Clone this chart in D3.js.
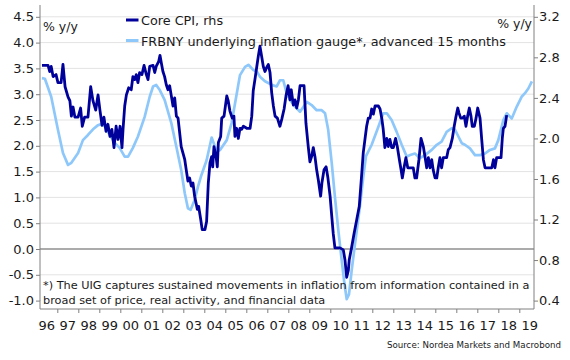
<!DOCTYPE html>
<html><head><meta charset="utf-8">
<script src="https://cdn.jsdelivr.net/npm/d3@7"></script>
<style>body{margin:0;background:#fff}svg{display:block}text{font-family:"DejaVu Sans",sans-serif;fill:#1a1a1a}</style>
</head><body><svg id="c" width="570" height="360"></svg>
<script>
const uigYears = [1996.27,1996.41,1996.71,1997.03,1997.27,1997.51,1997.67,1997.99,1998.22,1998.46,1998.70,1998.94,1999.08,1999.26,1999.51,1999.75,1999.97,2000.21,2000.37,2000.60,2000.84,2001.16,2001.40,2001.56,2001.71,2001.88,2002.11,2002.43,2002.67,2002.90,2003.07,2003.22,2003.35,2003.54,2003.70,2003.86,2004.11,2004.35,2004.59,2004.75,2005.07,2005.30,2005.54,2005.70,2005.94,2006.10,2006.33,2006.50,2006.65,2006.89,2007.21,2007.45,2007.60,2007.76,2007.92,2008.08,2008.32,2008.56,2008.88,2009.11,2009.35,2009.59,2009.75,2009.90,2010.07,2010.22,2010.38,2010.54,2010.67,2010.78,2010.89,2011.02,2011.18,2011.41,2011.57,2011.70,2011.97,2012.29,2012.52,2012.69,2012.92,2013.16,2013.40,2013.64,2013.80,2014.03,2014.27,2014.51,2014.83,2015.07,2015.30,2015.54,2015.78,2015.94,2016.10,2016.26,2016.41,2016.65,2016.89,2017.13,2017.37,2017.60,2017.84,2018.00,2018.24,2018.40,2018.64,2018.88,2019.11,2019.27,2019.43,2019.60];
const uigValues = [3.31,3.30,2.95,2.31,1.86,1.63,1.67,1.86,2.11,2.21,2.32,2.40,2.42,2.38,2.20,2.05,1.96,1.79,1.79,1.96,2.18,2.56,2.95,3.15,3.18,3.08,2.89,2.44,1.98,1.53,1.08,0.79,0.76,0.95,1.21,1.43,1.72,2.16,1.89,1.92,2.11,2.44,3.00,3.37,3.53,3.57,3.47,3.44,3.34,3.25,3.18,3.15,3.27,3.27,3.02,2.89,2.76,2.66,2.85,2.79,2.69,2.69,2.63,2.31,1.66,1.01,0.37,-0.21,-0.66,-0.97,-0.88,-0.41,0.11,0.82,1.40,1.80,2.02,2.37,2.63,2.63,2.50,2.27,2.02,1.79,1.82,1.85,1.76,1.82,1.92,2.02,2.08,2.27,2.34,2.31,2.18,2.05,2.02,1.95,1.82,1.82,1.85,1.92,1.95,2.11,2.50,2.63,2.53,2.76,2.95,3.02,3.11,3.25];
const cpiYears = [1996.27,1996.56,1996.64,1996.71,1996.80,1996.94,1997.03,1997.18,1997.27,1997.37,1997.51,1997.60,1997.67,1997.75,1997.84,1997.99,1998.11,1998.19,1998.30,1998.46,1998.59,1998.70,1998.83,1998.94,1999.03,1999.13,1999.22,1999.32,1999.41,1999.51,1999.60,1999.70,1999.80,1999.89,1999.99,2000.08,2000.13,2000.21,2000.29,2000.40,2000.52,2000.60,2000.69,2000.76,2000.84,2000.92,2001.03,2001.13,2001.24,2001.32,2001.40,2001.56,2001.64,2001.71,2001.83,2001.89,2001.95,2002.03,2002.11,2002.19,2002.27,2002.35,2002.43,2002.51,2002.59,2002.67,2002.75,2002.90,2003.07,2003.14,2003.22,2003.30,2003.38,2003.46,2003.54,2003.67,2003.73,2003.83,2003.90,2004.03,2004.11,2004.19,2004.27,2004.35,2004.40,2004.46,2004.56,2004.62,2004.67,2004.78,2004.83,2004.94,2005.07,2005.14,2005.22,2005.33,2005.41,2005.46,2005.54,2005.62,2005.70,2005.78,2005.86,2006.02,2006.18,2006.26,2006.33,2006.41,2006.50,2006.57,2006.65,2006.73,2006.81,2006.89,2006.97,2007.05,2007.13,2007.21,2007.29,2007.37,2007.48,2007.60,2007.69,2007.80,2007.89,2007.99,2008.08,2008.14,2008.24,2008.32,2008.40,2008.48,2008.56,2008.75,2008.84,2008.95,2009.03,2009.11,2009.19,2009.27,2009.35,2009.43,2009.54,2009.60,2009.70,2009.80,2009.88,2009.99,2010.07,2010.14,2010.22,2010.46,2010.62,2010.70,2010.78,2010.86,2010.90,2011.02,2011.13,2011.26,2011.38,2011.50,2011.57,2011.65,2011.73,2011.81,2011.89,2011.97,2012.05,2012.13,2012.29,2012.37,2012.45,2012.52,2012.60,2012.69,2012.76,2012.84,2012.92,2013.00,2013.11,2013.19,2013.29,2013.37,2013.43,2013.51,2013.60,2013.69,2013.95,2014.03,2014.11,2014.22,2014.32,2014.43,2014.51,2014.59,2014.67,2014.75,2014.83,2014.90,2014.99,2015.07,2015.14,2015.22,2015.30,2015.38,2015.54,2015.62,2015.70,2015.81,2015.90,2015.97,2016.07,2016.13,2016.21,2016.29,2016.38,2016.46,2016.54,2016.62,2016.70,2016.76,2016.86,2016.94,2017.02,2017.13,2017.21,2017.29,2017.37,2017.69,2017.77,2017.84,2017.92,2018.13,2018.19,2018.24,2018.32,2018.40];
const cpiValues = [2.72,2.72,2.66,2.71,2.61,2.63,2.55,2.55,2.73,2.51,2.41,2.37,2.22,2.31,2.21,2.21,2.30,2.12,2.21,2.21,2.51,2.37,2.28,2.43,2.28,2.13,2.21,2.07,2.14,2.02,2.09,1.91,2.12,1.99,2.12,1.91,2.09,2.32,2.43,2.50,2.48,2.61,2.58,2.63,2.55,2.65,2.63,2.72,2.63,2.58,2.71,2.72,2.65,2.71,2.76,2.82,2.75,2.66,2.61,2.53,2.48,2.52,2.42,2.32,2.40,2.22,2.20,1.92,1.79,1.69,1.58,1.61,1.53,1.56,1.43,1.30,1.33,1.20,1.10,1.10,1.18,1.56,1.76,1.82,1.72,1.92,1.82,1.72,1.96,2.02,2.20,2.22,2.42,2.37,2.27,2.20,2.22,2.02,2.10,2.00,2.10,2.09,2.12,2.10,2.10,2.22,2.47,2.58,2.71,2.81,2.91,2.81,2.71,2.66,2.70,2.73,2.65,2.45,2.32,2.22,2.20,2.12,2.19,2.29,2.42,2.52,2.38,2.48,2.33,2.38,2.30,2.38,2.52,2.52,2.15,1.92,1.77,1.82,1.91,1.82,1.69,1.59,1.43,1.56,1.69,1.72,1.62,1.43,1.23,1.06,0.92,0.92,0.90,0.80,0.63,0.70,0.80,0.93,1.06,1.20,1.33,1.66,1.86,1.99,2.12,2.20,2.20,2.29,2.24,2.32,2.32,2.29,2.20,2.09,1.91,2.00,1.92,1.99,1.91,1.91,2.00,1.92,1.79,1.69,1.61,1.71,1.81,1.71,1.71,1.61,1.61,1.79,2.00,1.92,1.82,1.71,1.81,1.71,1.79,1.69,1.61,1.61,1.71,1.81,1.71,1.81,1.81,1.89,1.91,2.00,2.12,2.20,2.30,2.25,2.20,2.20,2.22,2.12,2.22,2.30,2.22,2.12,2.12,2.20,2.30,2.20,1.99,1.79,1.71,1.71,1.79,1.71,1.81,1.81,2.00,2.10,2.12,2.23];
const leftTicks = [-1.0,-0.5,0.0,0.5,1.0,1.5,2.0,2.5,3.0,3.5,4.0,4.5];
const rightTicks = [0.4,0.8,1.2,1.6,2.0,2.4,2.8,3.2];
const yearTicks = [1997,1998,1999,2000,2001,2002,2003,2004,2005,2006,2007,2008,2009,2010,2011,2012,2013,2014,2015,2016,2017,2018,2019];
const yearLabels = ["96","97","98","99","00","01","02","03","04","05","06","07","08","09","10","11","12","13","14","15","16","17","18","19"];
const seriesNames = ["Core CPI, rhs","FRBNY underlying inflation gauge*, advanced 15 months"];
const seriesColors = ["#00009a","#8ec8fb"];
const noteLines = ["*) The UIG captures sustained movements in inflation from information contained in a","broad set of price, real activity, and financial data"];
const sourceText = "Source: Nordea Markets and Macrobond";
const unitLabel = "% y/y";

const L = 40, R = 534, T = 5, B = 309;
const svg = d3.select("#c");
const x = d3.scaleLinear().domain([1996, 2019]).range([36.3, 519.3]);
const yL = d3.scaleLinear().domain([-1, 4.5]).range([300.6, 16.8]);
const yR = d3.scaleLinear().domain([0.4, 3.2]).range([300.6, 16.8]);

// grid
svg.append("g").selectAll("line").data(leftTicks).join("line")
  .attr("x1", L).attr("x2", R).attr("y1", d => yL(d)).attr("y2", d => yL(d))
  .attr("stroke", "#e3e3e3").attr("stroke-width", 1);

// note background
svg.append("rect").attr("x", L + 1).attr("y", 279).attr("width", R - L - 2).attr("height", B - 279 - 1).attr("fill", "#fff");

// zero line
svg.append("line").attr("x1", L).attr("x2", R).attr("y1", yL(0)).attr("y2", yL(0))
  .attr("stroke", "#666").attr("stroke-width", 1.2);

// series
const uig = uigYears.map((d, i) => [d, uigValues[i]]);
const cpi = cpiYears.map((d, i) => [d, cpiValues[i]]);
svg.append("path").datum(uig).attr("fill", "none").attr("stroke", seriesColors[1]).attr("stroke-width", 2.7)
  .attr("stroke-linejoin", "round").attr("d", d3.line().x(d => x(d[0])).y(d => yL(d[1])));
svg.append("path").datum(cpi).attr("fill", "none").attr("stroke", seriesColors[0]).attr("stroke-width", 2.8)
  .attr("stroke-linejoin", "round").attr("d", d3.line().x(d => x(d[0])).y(d => yR(d[1])));

// axes
function style(g) {
  g.select(".domain").remove();
  g.selectAll(".tick line").attr("stroke", "#808080");
  g.selectAll(".tick text").attr("font-size", 13).attr("fill", "#1a1a1a").attr("font-family", '"DejaVu Sans",sans-serif');
}
svg.append("g").attr("transform", `translate(${L},0)`)
  .call(d3.axisLeft(yL).tickValues(leftTicks).tickSize(4).tickPadding(2).tickFormat(d => d.toFixed(1))).call(style);
svg.append("g").attr("transform", `translate(${R},0)`)
  .call(d3.axisRight(yR).tickValues(rightTicks).tickSize(4).tickPadding(1).tickFormat(d => d.toFixed(1))).call(style);
svg.append("g").attr("transform", `translate(0,${B})`)
  .call(d3.axisBottom(x).tickValues(yearTicks).tickSize(4).tickFormat("")).call(style);

svg.append("line").attr("x1", L).attr("x2", L).attr("y1", T).attr("y2", B).attr("stroke", "#808080");
svg.append("line").attr("x1", R).attr("x2", R).attr("y1", T).attr("y2", B).attr("stroke", "#808080");
svg.append("line").attr("x1", L).attr("x2", R).attr("y1", B).attr("y2", B).attr("stroke", "#808080");

svg.append("g").selectAll("text").data(yearLabels).join("text")
  .attr("x", (d, i) => x(1996.5 + i)).attr("y", 330).attr("text-anchor", "middle").attr("font-size", 13).text(d => d);

// unit labels
svg.append("text").attr("x", 43).attr("y", 30.5).attr("font-size", 12.5).text(unitLabel);
svg.append("text").attr("x", 532).attr("y", 28).attr("text-anchor", "end").attr("font-size", 12.5).text(unitLabel);

// legend
const legY = [20, 40.5];
[0, 1].forEach(i => {
  svg.append("line").attr("x1", 126).attr("x2", 138.5).attr("y1", legY[i]).attr("y2", legY[i])
    .attr("stroke", seriesColors[i]).attr("stroke-width", 3);
  svg.append("text").attr("x", 141).attr("y", legY[i] + 5).attr("font-size", 12.8).text(seriesNames[i]);
});

// note
noteLines.forEach((t, i) => {
  svg.append("text").attr("x", 43).attr("y", 289 + i * 14.5).attr("font-size", 11.3).text(t);
});

svg.append("text").attr("x", 561).attr("y", 348).attr("text-anchor", "end").attr("font-size", 8.7).text(sourceText);
</script>
</body></html>
